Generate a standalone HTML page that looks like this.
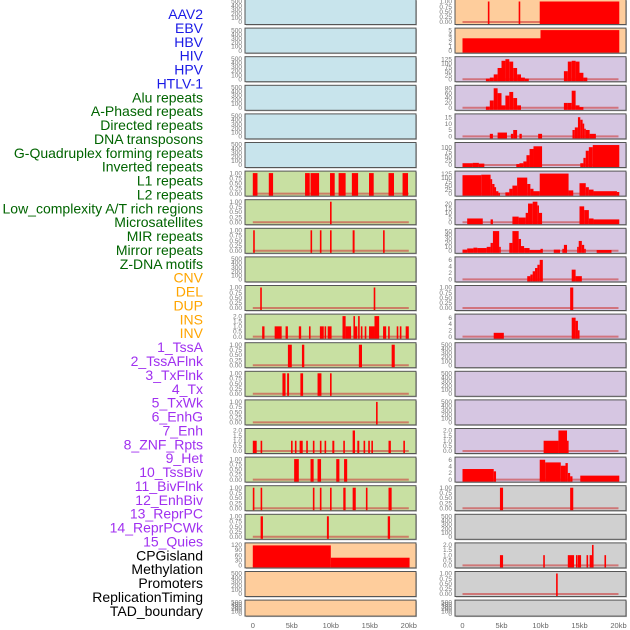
<!DOCTYPE html>
<html><head><meta charset="utf-8"><style>
body{margin:0;background:#fff;width:630px;height:630px;overflow:hidden}
svg{display:block}
</style></head><body>
<svg id="c" width="630" height="630" viewBox="0 0 630 630" font-family="Liberation Sans, sans-serif"></svg>
<script>
const trackLabels=["AAV2","EBV","HBV","HIV","HPV","HTLV-1","Alu repeats","A-Phased repeats","Directed repeats","DNA transposons","G-Quadruplex forming repeats","Inverted repeats","L1 repeats","L2 repeats","Low_complexity A/T rich regions","Microsatellites","MIR repeats","Mirror repeats","Z-DNA motifs","CNV","DEL","DUP","INS","INV","1_TssA","2_TssAFlnk","3_TxFlnk","4_Tx","5_TxWk","6_EnhG","7_Enh","8_ZNF_Rpts","9_Het","10_TssBiv","11_BivFlnk","12_EnhBiv","13_ReprPC","14_ReprPCWk","15_Quies","CPGisland","Methylation","Promoters","ReplicationTiming","TAD_boundary"];
const labelGroups=[6,13,5,15,5];
const groupColors=["#1a1ae6","#006400","#ffa500","#a030f0","#000000"];
const xTickLabels=["0","5kb","10kb","15kb","20kb"];
const xTickValues=[0,5,10,15,20];
const T500=["0","100","200","300","400","500"],T1=["0.00","0.25","0.50","0.75","1.00"],T2=["0.0","0.5","1.0","1.5","2.0"];
const leftBg=["b","b","b","b","b","b","g","g","g","g","g","g","g","g","g","g","g","g","g","p","p","p"];
const leftTicks=[T500,T500,T500,T500,T500,T500,T1,T1,T1,T500,T1,T2,T1,T1,T1,T2,T1,T1,T1,["0","30","60","90","120"],T500,T500];
const leftMax=[500,500,500,500,500,500,1,1,1,500,1,2,1,1,1,2,1,1,1,120,500,500];
const leftSegs=[[],[],[],[],[],[],
[[0,0.6,1],[2.05,2.6,1],[6.7,7.3,1],[7.4,8.5,1],[9.9,10.5,1],[11,11.9,1],[12.7,13.5,1],[14.9,15.5,1],[17.4,18.1,1],[19.2,19.9,1]],
[[9.9,10.05,1]],
[[0.05,0.25,1],[7.4,7.6,1],[8.6,8.8,1],[9.9,10.1,1],[12.8,13.05,1],[16.7,16.9,1]],
[],
[[0.95,1.15,1],[15.5,15.7,1]],
[[1.2,1.5,1],[2.8,3.7,1],[4.2,4.5,1],[5.9,6.2,1],[7.2,7.4,1],[8.6,9.1,1],[9.2,9.4,1],[9.6,10.1,1],[11.5,11.9,2],[11.9,12.6,1],[12.9,13.1,2],[13.1,13.4,1],[13.5,13.7,2],[13.85,14.05,1],[14.35,14.55,1],[14.9,15.6,1],[15.6,16.2,2],[16.7,17.1,1],[17.35,17.55,1],[18.45,18.65,1],[18.85,19.05,1],[19.6,20,1]],
[[4.5,5.0,1],[6.3,6.6,1],[13.6,14.0,1],[17.8,18.2,1]],
[[3.8,4.2,1],[4.4,4.65,1],[6.1,6.45,1],[8.3,8.8,1],[9.9,10.1,1]],
[[15.8,16.0,1]],
[[0,0.5,1],[1.0,1.2,1],[4.9,5.1,1],[5.4,5.6,1],[6.0,6.4,1],[6.85,7.05,1],[7.7,7.9,1],[8.6,8.8,1],[9.2,9.4,1],[10.2,10.45,1],[11.6,11.8,1],[12.8,13.1,2],[13.4,13.65,1],[14.2,14.4,1],[14.8,15.0,1],[15.2,15.4,1],[17.4,17.7,1],[19.3,19.5,1]],
[[5.3,5.9,1],[7.4,7.8,1],[8.3,8.75,1],[10.7,11.1,1],[11.7,12.1,1]],
[[0,0.2,1],[1.0,1.2,1],[7.7,7.9,1],[8.6,8.8,1],[9.9,10.1,1],[11.6,11.9,1],[12.8,13.2,1],[14.5,14.7,1],[17.4,17.8,1]],
[[1.0,1.3,1],[9.5,9.75,1],[17.3,17.6,1]],
[[0,10,117],[10,20.1,45]],
[],[]];
const rightBg=["p","p","u","u","u","u","u","u","u","u","u","u","u","u","u","u","u","r","r","r","r","r"];
const rightTicks=[T1,["0","1","2","3","4","5"],["0","25","50","75","100","125"],["0","20","40","60","80"],["0","5","10","15"],["0","25","50","75","100"],["0","25","50","75","100","125"],["0","5","10","15","20"],["0","10","20","30","40","50"],["0","2","4","6"],T1,["0","2","4","6"],T500,T500,T500,T2,["0","2","4","6"],T1,T500,T2,T1,T500];
const rightMax=[1,5,128,84,16,115,128,22,52,6.3,1,6.5,500,500,500,2,6.2,1,500,2,1,500];
const rightSegs=[
[[3.25,3.45,1],[7.2,7.4,1],[9.9,20.1,1]],
[[0,10,3],[10,20.1,5]],
[[3,3.5,3],[3.5,4,10],[4,4.5,30],[4.5,5,70],[5,5.5,115],[5.5,6,125],[6,6.5,110],[6.5,7,70],[7,7.5,30],[7.5,8,10],[8,8.5,3],[13,13.5,50],[13.5,14,110],[14,14.5,115],[14.5,15,110],[15,15.5,40],[15.5,16,10]],
[[3,3.5,5],[3.5,4,30],[4,4.5,80],[4.5,5,60],[5,5.5,10],[5.5,6,50],[6,6.5,65],[6.5,7,40],[7,7.5,10],[13,13.5,20],[13.5,14,20],[14,14.5,70],[14.5,15,10],[15,15.5,3]],
[[3.5,3.9,2],[4.5,5.7,3],[6.2,6.5,2],[6.5,7.0,5],[7.3,7.6,2],[9.7,10.2,2],[14.1,14.4,5],[14.4,14.8,7],[14.8,15.1,15],[15.1,15.4,13],[15.4,15.6,10],[15.6,15.8,6],[15.8,16.3,5],[16.3,17.1,2]],
[[0,1.3,10],[1.3,2.1,12],[2.1,2.8,8],[6.9,7.3,5],[7.3,7.8,10],[7.8,8.2,20],[8.2,8.6,55],[8.6,9.1,90],[9.1,10.2,105],[15.1,15.5,10],[15.5,15.8,40],[15.8,16.2,80],[16.2,16.7,100],[16.7,20.1,112]],
[[0,2.4,115],[2.4,3.6,118],[3.6,3.8,90],[3.8,4.1,60],[4.1,4.3,40],[4.3,4.6,15],[4.6,4.8,5],[5.5,6.0,8],[6.0,6.4,30],[6.4,7.0,50],[7.0,8.3,100],[8.3,8.7,60],[8.7,9.1,30],[9.1,9.9,15],[9.9,13.6,125],[13.6,14.2,20],[15.0,15.8,65],[15.8,16.2,40],[16.2,16.8,25],[16.8,19.8,15],[19.8,20.1,10]],
[[0.6,2.6,4],[3.6,3.9,3],[6.4,7.2,6],[7.2,8.1,5],[8.1,8.4,10],[8.4,9.0,20],[9.0,9.6,22],[9.6,9.8,18],[9.8,10.2,10],[15.0,15.6,17],[15.6,16.2,13],[16.2,16.8,4],[16.8,20.1,3]],
[[0,0.6,3],[0.6,1.4,6],[1.4,1.9,8],[1.9,3.1,7],[3.1,3.6,10],[3.6,3.9,20],[3.9,4.7,50],[4.7,4.9,10],[6.0,6.4,20],[6.4,7.2,50],[7.2,7.5,30],[7.5,7.9,12],[7.9,8.6,7],[8.6,10.0,2],[10.0,10.3,5],[11.7,12.5,3],[12.8,13.0,5],[13.0,13.4,15],[14.7,14.9,10],[14.9,15.3,25],[15.3,15.6,15],[15.6,15.8,5],[17.2,19.1,2]],
[[8.3,8.7,1],[8.7,9.0,1.5],[9.0,9.3,2.5],[9.3,9.6,3.5],[9.6,9.9,4.5],[9.9,10.3,6],[14.0,14.5,3],[14.5,15.3,1]],
[[13.8,14.2,1]],
[[4.0,5.3,1.2],[14.0,14.5,6],[14.5,14.8,5],[14.8,15.0,2]],
[],[],[],
[[10.4,12.3,1],[12.3,13.4,2],[13.4,13.5,1]],
[[0,4.0,3.2],[4.0,4.3,2.5],[9.9,10.6,6],[10.6,12.6,5.2],[12.6,13.2,4.2],[13.2,13.5,5],[13.5,13.8,2],[13.8,14.1,1],[15.1,20.1,1.2]],
[[4.8,5.2,1],[13.8,14.2,1]],
[],
[[4.8,5.2,1],[10.35,10.55,1],[13.5,14.3,1],[14.55,14.75,1],[14.8,15.2,1],[15.9,16.1,1],[16.3,16.6,1],[16.6,16.8,2],[18.2,18.4,1]],
[[12.0,12.2,1]],
[]];

const svg=document.getElementById('c');
const NS="http://www.w3.org/2000/svg";
function mk(tag,attrs,parent){const e=document.createElementNS(NS,tag);for(const k in attrs)e.setAttribute(k,attrs[k]);(parent||svg).appendChild(e);return e;}
const BG={b:"#c8e4ec",g:"#c8e0a2",p:"#fecd9c",u:"#d6c6e2",r:"#d0d0d0"};

let li=0;
labelGroups.forEach((n,g)=>{for(let k=0;k<n;k++){const t=mk('text',{x:203,y:19+li*13.88,'text-anchor':'end','font-size':'14',fill:groupColors[g]});t.textContent=trackLabels[li];


li++;}});

function xs(col){const x0=col?462.5:252.8;return kb=>x0+kb*7.8;}
function drawPanel(col,i,bg,ticks,ymax,segs){
  const top=i*28.6-0.5, h=(i===21)?16:25;
  const px=col?455:245, pw=171;
  const g=mk('g',{});
  
  
  mk('rect',{x:px+1,y:top+1,width:pw,height:h,fill:'#bbb'},g);
  mk('rect',{x:px,y:top,width:pw,height:h,fill:BG[bg],stroke:'#555','stroke-width':1},g);
  const yb=top+h-2.5, span=h-4.5;
  const y=v=>yb-(v/ymax)*span;
  const X=xs(col);
  ticks.forEach(t=>{const tt=mk('text',{x:px-3,y:y(parseFloat(t))+2.2,'text-anchor':'end','font-size':'6.5',fill:'#777'},g);tt.textContent=t;
  
  });
  if(segs.length){
    const bl=mk('line',{x1:X(0),x2:X(20),y1:yb,y2:yb,stroke:'rgba(205,60,60,0.6)','stroke-width':2},g);
    
    
  }
  segs.forEach(s=>{const x1=X(s[0]),x2=X(s[1]);const w=Math.max(x2-x1,1.6);const yt=y(s[2]);
    const r=mk('rect',{x:x1,y:yt,width:w,height:top+h-0.5-yt,fill:'#ff0000'},g);
    
    });
}
for(let i=0;i<22;i++){drawPanel(0,i,leftBg[i],leftTicks[i],leftMax[i],leftSegs[i]);drawPanel(1,i,rightBg[i],rightTicks[i],rightMax[i],rightSegs[i]);}
[0,1].forEach(col=>{const X=xs(col);xTickValues.forEach((v,j)=>{const t=mk('text',{x:X(v),y:628,'text-anchor':'middle','font-size':'7.5',fill:'#666'});t.textContent=xTickLabels[j];

});});
</script>
</body></html>
